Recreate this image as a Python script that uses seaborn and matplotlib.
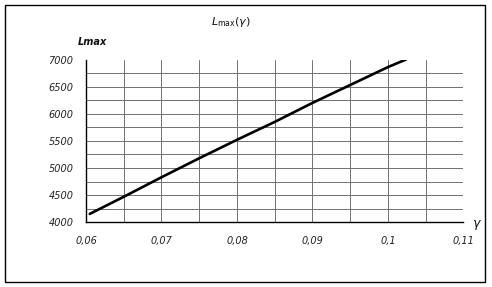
import matplotlib
matplotlib.use("Agg")
import matplotlib.pyplot as plt
from matplotlib.ticker import MultipleLocator, FuncFormatter
from matplotlib.patches import Rectangle
import seaborn as sns
import pandas as pd

# data
gamma = [0.0605, 0.065, 0.070, 0.075, 0.080, 0.085, 0.090, 0.095, 0.100, 0.1024]
lmax = [4155, 4470, 4830, 5180, 5520, 5850, 6200, 6530, 6860, 7000]
x_ticks = [0.06, 0.07, 0.08, 0.09, 0.10, 0.11]
y_ticks = [4000, 4500, 5000, 5500, 6000, 6500, 7000]

df = pd.DataFrame({"gamma": gamma, "Lmax": lmax})

sns.set_style("white")
plt.rcParams["font.family"] = ["DejaVu Sans"]

fig = plt.figure(figsize=(4.92, 2.87), dpi=100)
ax = fig.add_axes([86 / 492, 1 - 222.3 / 287, (463.4 - 86) / 492, (222.3 - 59.5) / 287])

sns.lineplot(data=df, x="gamma", y="Lmax", ax=ax, color="black", linewidth=1.9, zorder=3)

ax.set_xlim(0.06, 0.11)
ax.set_ylim(4000, 7000)
ax.set_xticks(x_ticks)
ax.set_yticks(y_ticks)
ax.xaxis.set_minor_locator(MultipleLocator(0.005))
ax.yaxis.set_minor_locator(MultipleLocator(250))

fmt = FuncFormatter(lambda v, p: ("%g" % round(v, 4)).replace(".", ","))
ax.xaxis.set_major_formatter(fmt)

ax.grid(True, which="both", color="#707070", linewidth=0.7)
# no gridline on the top edge or at the right end
for gl, v in zip(ax.get_ygridlines(), y_ticks):
    if v == 7000:
        gl.set_visible(False)
for gl, v in zip(ax.get_xgridlines(), x_ticks):
    if v >= 0.11:
        gl.set_visible(False)

for s in ["top", "right"]:
    ax.spines[s].set_visible(False)
for s in ["left", "bottom"]:
    ax.spines[s].set_color("black")
    ax.spines[s].set_linewidth(1.0)

ax.tick_params(axis="both", which="major", direction="out", length=3, width=1,
               color="black", labelsize=7, labelcolor="#222222")
ax.tick_params(axis="x", which="major", pad=7)
ax.tick_params(axis="y", which="major", pad=6)
ax.tick_params(axis="both", which="minor", length=0)
for lab in ax.get_xticklabels() + ax.get_yticklabels():
    lab.set_fontstyle("italic")

ax.set_xlabel("")
ax.set_ylabel("")

fig.text(92.5 / 492, 1 - 42 / 287, "Lmax", fontsize=7, fontweight="bold",
         fontstyle="italic", ha="center", va="center", color="#111111")
fig.text(231 / 492, 1 - 22 / 287, r"$L_{\mathrm{max}}(\gamma)$", fontsize=8,
         ha="center", va="center", color="#111111")
fig.text(477 / 492, 1 - 225 / 287, r"$\gamma$", fontsize=9,
         ha="center", va="center", color="#111111")

fig.patches.append(Rectangle((5 / 492, 1 - 282 / 287), 480 / 492, 277 / 287,
                             transform=fig.transFigure, fill=False,
                             edgecolor="black", linewidth=1.0))

fig.savefig("out.png", dpi=100)
